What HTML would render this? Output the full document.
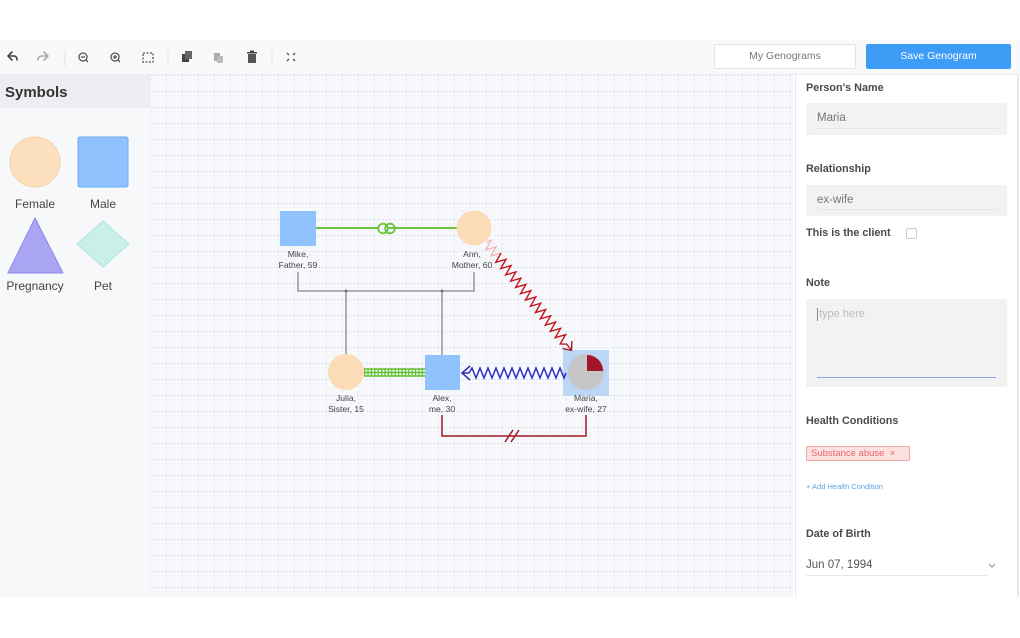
<!DOCTYPE html>
<html><head><meta charset="utf-8">
<style>
*{margin:0;padding:0;box-sizing:border-box}
html,body{width:1020px;height:638px;background:#fff;overflow:hidden;font-family:"Liberation Sans",sans-serif}
.abs{position:absolute}
.toolbar{left:0;top:40px;width:1020px;height:35px;background:#f8f9fb;border-bottom:1px solid #eceef2}
.btn1{left:714px;top:44px;width:142px;height:25px;background:#fff;border:1px solid #e2e4e8;border-radius:2px;color:#777;font-size:10.5px;text-align:center;line-height:23px}
.btn2{left:866px;top:44px;width:145px;height:25px;background:#3d9cf6;border-radius:2px;color:#fff;font-size:10.5px;text-align:center;line-height:25px}
.sym{left:0;top:75px;width:150px;height:522px;background:#f7f8fa}
.symh{left:0;top:75px;width:150px;height:33px;background:#eceef1;font-weight:bold;font-size:15px;color:#333;padding:9px 0 0 5px}
.rp{left:795px;top:75px;width:224px;height:522px;background:#fff;border-left:1px solid #e6e8ec;border-right:2px solid #e6e8ec}
.lbl{font-weight:bold;font-size:10.8px;color:#4a4a4a;left:806px}
.inp{left:806px;width:201px;background:#f2f2f2}
.inptxt{font-size:11.5px;color:#777;left:817px}
</style></head><body>
<div class="abs toolbar"></div>
<svg class="abs" style="left:0;top:40px" width="320" height="35" viewBox="0 0 320 35">
<g fill="none" stroke="#444" stroke-width="1.6" stroke-linecap="round" stroke-linejoin="round">
<path d="M8 16 L12 12 M8 16 L12 20 M8 16 H14 Q17 16 17 20"/>
<path d="M48 16 L44 12 M48 16 L44 20 M48 16 H42 Q38 16 38 20" stroke="#aaa"/>
</g>
<line x1="65" y1="10" x2="65" y2="26" stroke="#e2e2e2"/>
<g fill="none" stroke="#555" stroke-width="1.3">
<circle cx="83" cy="17" r="4"/><line x1="86" y1="20" x2="88" y2="22"/><line x1="81" y1="17" x2="85" y2="17"/>
<circle cx="115" cy="17" r="4"/><line x1="118" y1="20" x2="120" y2="22"/><line x1="113" y1="17" x2="117" y2="17"/><line x1="115" y1="15" x2="115" y2="19"/>
<rect x="143" y="13" width="10" height="9" stroke-dasharray="2 1.5"/>
</g>
<line x1="168" y1="10" x2="168" y2="26" stroke="#e2e2e2"/>
<g fill="#444">
<rect x="182" y="14" width="7" height="8"/><rect x="185" y="11" width="7" height="8" fill="#666"/>
<rect x="214" y="13" width="6" height="8" fill="#aaa"/><rect x="217" y="16" width="6" height="7" fill="#bbb"/>
<rect x="248" y="14" width="8" height="9" fill="#555"/><rect x="247" y="12" width="10" height="1.5"/><rect x="250" y="10.5" width="4" height="1.5"/>
</g>
<line x1="272" y1="10" x2="272" y2="26" stroke="#e2e2e2"/>
<g stroke="#555" stroke-width="1.3" fill="none"><path d="M287 13 L289 15 M295 13 L293 15 M287 21 L289 19 M295 21 L293 19"/></g>
</svg>
<div class="abs btn1">My Genograms</div>
<div class="abs btn2">Save Genogram</div>

<div class="abs sym"></div>
<div class="abs symh">Symbols</div>
<svg class="abs" style="left:0;top:108px" width="150" height="200" viewBox="0 108 150 200">
<circle cx="35" cy="162" r="25" fill="#fde1bf" stroke="#f6d0a2" stroke-width="1"/>
<rect x="78" y="137" width="50" height="50" rx="2" fill="#90c3fd" stroke="#6eaaf3"/>
<polygon points="35,218 8,273 63,273" fill="#aaa6f4" stroke="#8c86ec"/>
<polygon points="103,221 129,244 103,267 77,244" fill="#c9efe9" stroke="#ade5dc"/>
<g font-family="Liberation Sans,sans-serif" font-size="12" fill="#444" text-anchor="middle">
<text x="35" y="208">Female</text><text x="103" y="208">Male</text>
<text x="35" y="290">Pregnancy</text><text x="103" y="290">Pet</text>
</g>
</svg>

<svg class="abs" style="left:150px;top:75px" width="643" height="522" viewBox="150 75 643 522">
<defs>
<pattern id="g" x="150" y="75" width="16" height="16" patternUnits="userSpaceOnUse">
<rect width="16" height="16" fill="#f7f8fb"/>
<line x1="0" y1="0.5" x2="16" y2="0.5" stroke="#d3d8e1" stroke-dasharray="1 2"/>
<line x1="0.5" y1="0" x2="0.5" y2="16" stroke="#d3d8e1" stroke-dasharray="1 3"/>
<circle cx="8.5" cy="8.5" r="0.6" fill="#dde1e8"/>
</pattern>
</defs>
<rect x="150" y="75" width="643" height="522" fill="url(#g)"/>
<g stroke="#888" stroke-width="1.3" fill="none">
<polyline points="298,272 298,291 474,291 474,272"/>
<line x1="346" y1="291" x2="346" y2="355"/>
<line x1="442" y1="291" x2="442" y2="355"/>
</g>
<circle cx="346" cy="291" r="1.5" fill="#777"/><circle cx="442" cy="291" r="1.5" fill="#777"/>
<line x1="316" y1="228" x2="457" y2="228" stroke="#6cc43c" stroke-width="2"/>
<circle cx="383" cy="228.5" r="4.8" fill="#f7f8fb" stroke="#6cc43c" stroke-width="1.8"/>
<circle cx="390" cy="228.5" r="4.8" fill="none" stroke="#6cc43c" stroke-width="1.8"/>
<rect x="280" y="211" width="36" height="35" fill="#90c3fd"/>
<circle cx="474" cy="228" r="17.5" fill="#fcdcb6"/>
<polyline points="442,415 442,436 586,436 586,415" fill="none" stroke="#a11a22" stroke-width="1.5"/>
<g stroke="#a11a22" stroke-width="1.5"><line x1="505" y1="442" x2="513" y2="430"/><line x1="511" y1="442" x2="519" y2="430"/></g>
<g stroke="#5fc02c" stroke-width="1.4">
<line x1="364" y1="369" x2="425" y2="369"/><line x1="364" y1="372.5" x2="425" y2="372.5"/><line x1="364" y1="376" x2="425" y2="376"/>
</g>
<g stroke="#5fc02c" stroke-width="1.1" stroke-dasharray="1.2 2.2"><line x1="364" y1="372.5" x2="425" y2="372.5" stroke-width="8"/></g>
<circle cx="346" cy="372" r="18" fill="#fcdcb6"/>
<rect x="425" y="355" width="35" height="35" fill="#90c3fd"/>
<rect x="563" y="350" width="46" height="46" fill="#bcd6f6"/>
<circle cx="586" cy="372" r="18" fill="#c6c6c6"/>
<path d="M587 371 L587 355 A16 16 0 0 1 603 371 Z" fill="#a3152c"/>
<g transform="translate(566,373) rotate(180)" fill="none" stroke="#2a2fc0" stroke-width="1.5" stroke-linejoin="miter">
<polyline points="0,0 2,-5 6,5 10,-5 14,5 18,-5 22,5 26,-5 30,5 34,-5 38,5 42,-5 46,5 50,-5 54,5 58,-5 62,5 66,-5 70,5 74,-5 78,5 82,-5 86,5 90,-5 94,5 97,0 104,0"/>
<polyline points="96,-7 104,0 96,7"/>
</g>
<g transform="translate(486,242) rotate(51.7)" fill="none" stroke="#c3161f" stroke-width="1.4">
<polyline points="0,0 2,-5 6,5 10,-5 14,5 18,-5" stroke="#f0b8bc"/>
<polyline points="18,-5 22,5 26,-5 30,5 34,-5 38,5 42,-5 46,5 50,-5 54,5 58,-5 62,5 66,-5 70,5 74,-5 78,5 82,-5 86,5 90,-5 94,5 98,-5 102,5 106,-5 110,5 114,-5 118,5 122,-5 126,5 130,0 138,0"/>
<polyline points="131,-6 138,0 131,6" stroke="#9c1d3a"/>
</g>
<g font-family="Liberation Sans,sans-serif" font-size="8.6" fill="#444" text-anchor="middle">
<text x="298" y="257">Mike,</text><text x="298" y="268">Father, 59</text>
<text x="472" y="257">Ann,</text><text x="472" y="268">Mother, 60</text>
<text x="346" y="401">Julia,</text><text x="346" y="412">Sister, 15</text>
<text x="442" y="401">Alex,</text><text x="442" y="412">me, 30</text>
<text x="586" y="401">Maria,</text><text x="586" y="412">ex-wife, 27</text>
</g>
</svg>

<div class="abs rp"></div>
<div class="abs lbl" style="top:82px">Person's Name</div>
<div class="abs inp" style="top:103px;height:32px"></div>
<div class="abs" style="left:817px;top:128px;width:180px;height:1px;background:#e6e6e6"></div>
<div class="abs inptxt" style="top:112px">Maria</div>
<div class="abs lbl" style="top:163px">Relationship</div>
<div class="abs inp" style="top:185px;height:31px"></div>
<div class="abs" style="left:817px;top:209px;width:180px;height:1px;background:#e6e6e6"></div>
<div class="abs inptxt" style="top:194px">ex-wife</div>
<div class="abs lbl" style="top:227px">This is the client</div>
<div class="abs" style="left:906px;top:228px;width:11px;height:11px;border:1px solid #ccc;border-radius:2px;background:#fff"></div>
<div class="abs lbl" style="top:277px">Note</div>
<div class="abs inp" style="top:299px;height:88px"></div>
<div class="abs" style="left:817px;top:377px;width:179px;height:1px;background:#8da4ee"></div>
<div class="abs" style="left:817px;top:308px;width:1px;height:13px;background:#888"></div>
<div class="abs" style="left:819px;top:308px;font-size:11px;color:#bbb">type here</div>
<div class="abs lbl" style="top:415px">Health Conditions</div>
<div class="abs" style="left:806px;top:446px;width:104px;height:15px;background:#fde0e0;border:1px solid #f3a6a6;border-radius:2px;font-size:9.5px;color:#e36a6a;line-height:13px;padding-left:4px">Substance abuse &nbsp;×</div>
<div class="abs" style="left:806px;top:482px;font-size:7.5px;color:#5ea4e2">+ Add Health Condition</div>
<div class="abs lbl" style="top:528px">Date of Birth</div>
<div class="abs" style="left:806px;top:559px;font-size:11.5px;color:#555">Jun 07, 1994</div>
<div class="abs" style="left:806px;top:575px;width:181px;height:1px;background:#e6e6e6"></div>
<svg class="abs" style="left:988px;top:563px" width="8" height="6"><polyline points="1,1 4,4 7,1" fill="none" stroke="#999" stroke-width="1.2"/></svg>
</body></html>
